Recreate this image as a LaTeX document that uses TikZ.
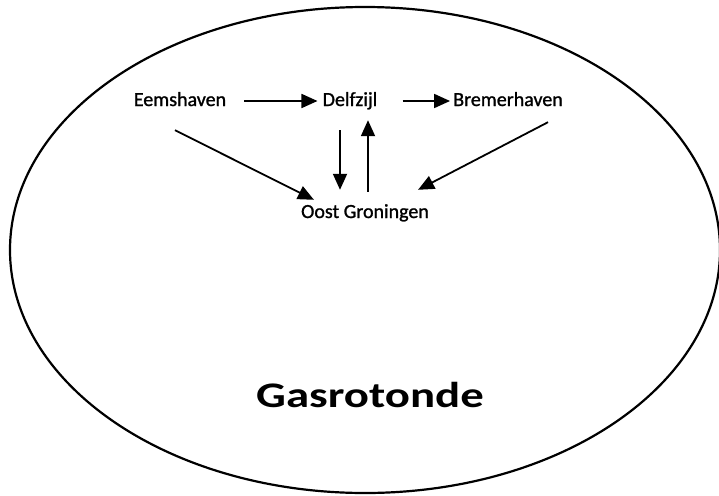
\documentclass[tikz,border=0pt]{standalone}
\usepackage{fontspec}
\setmainfont[FakeBold=1.2]{Carlito}
\newfontfamily\titlefont[FakeStretch=1.3]{Carlito}
\usetikzlibrary{arrows.meta,positioning,calc}
\tikzset{every node/.style={font=\fontsize{20}{24}\selectfont,text=black,inner sep=0pt},
place/.style={anchor=base,text height=14pt,text depth=4pt},
arr/.style={-{Triangle[length=16pt,width=14pt]},draw=black,line width=1.8pt}}

\begin{document}
\begin{tikzpicture}[x=1pt,y=-1pt]
\useasboundingbox (0,0) rectangle (719,495);
\draw[line width=2.2pt] (365,250) ellipse[x radius=355,y radius=243];
\node[place] (eem) at (180,106) {Eemshaven};
\node[place] (del) at (350,106) {Delfzijl};
\node[place] (brem) at (508,106) {Bremerhaven};
\node[place] (oost) at (365,218) {Oost Groningen};
\node[font=\titlefont\bfseries\fontsize{36}{40}\selectfont,anchor=base] (gas) at (370,407) {Gasrotonde};
\draw[arr,shorten <=18pt,shorten >=5pt] (eem.east)--(del.west);
\draw[arr,shorten <=25pt,shorten >=3pt] (del.east)--(brem.west);
\draw[arr] ($(eem.south)+(-5,20)$)--($(oost.north west)+(13,-4)$);
\draw[arr] ($(del.south)+(-10,20)$)--($(oost.north)+(-25,-14)$);
\draw[arr] ($(oost.north)+(3,-12)$)--($(del.south)+(18,10)$);
\draw[arr] ($(brem.south)+(40,12)$)--($(oost.north east)+(-11,-14)$);
\end{tikzpicture}
\end{document}
